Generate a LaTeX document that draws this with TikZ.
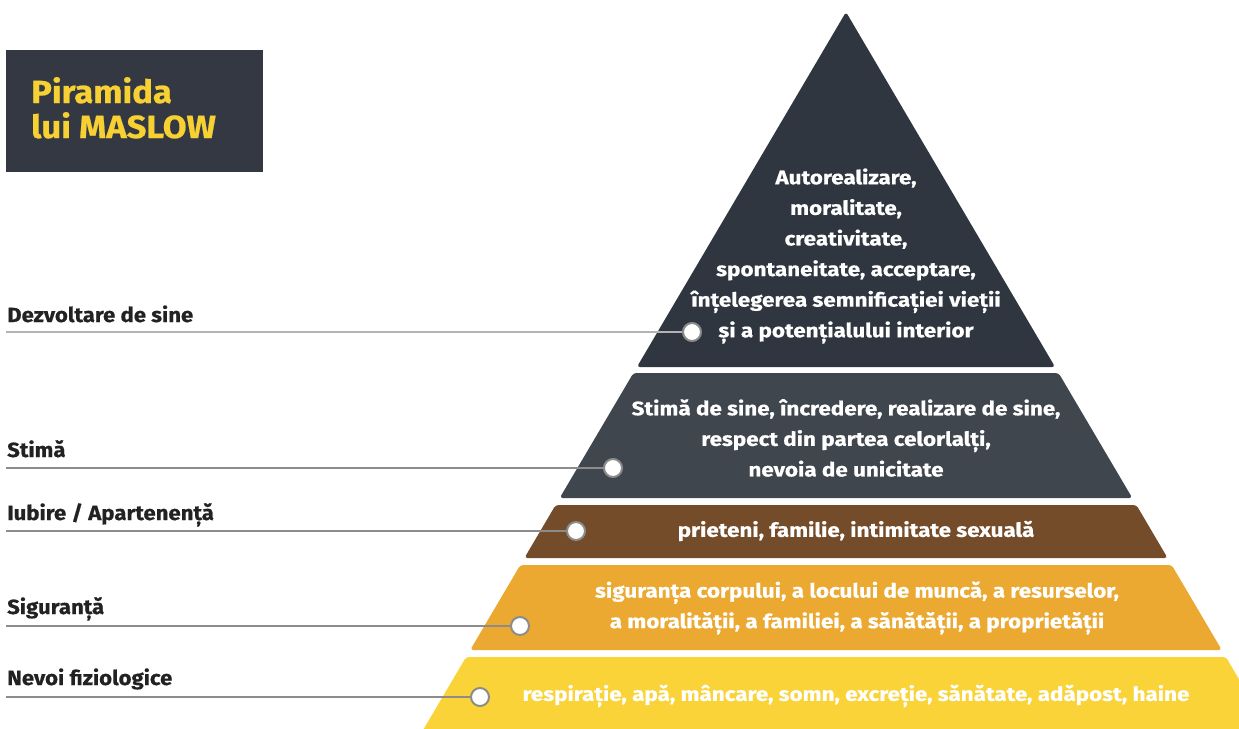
\documentclass[tikz,border=0pt]{standalone}
\usepackage{fontspec}
\newfontfamily\fbw{Fira Sans}[FakeStretch=1.15,FakeBold=0.6]
\newfontfamily\fbl{Fira Sans}[FakeStretch=1.08,FakeBold=0.6]
\definecolor{cTop}{HTML}{2F3640}
\definecolor{cEst}{HTML}{40464E}
\definecolor{cBrown}{HTML}{754C29}
\definecolor{cOrange}{HTML}{EBA932}
\definecolor{cYellow}{HTML}{F9D338}
\definecolor{cTitleBg}{HTML}{333843}
\definecolor{cTitleTx}{HTML}{F7D133}
\definecolor{cLabel}{HTML}{222222}
\definecolor{cLine}{HTML}{8C8C8C}
\definecolor{cLineLight}{HTML}{B4B4B4}
\tikzset{
  band/.style={rounded corners=3pt},
  bandtext/.style={align=center, text=white, inner sep=0pt,
    font=\fbw\bfseries\fontsize{19.5}{30.6}\selectfont},
  lvl/.style={anchor=base west, inner sep=0pt, text=cLabel,
    font=\fbl\bfseries\fontsize{20.5}{24}\selectfont},
  dot/.style={circle, minimum size=18pt, inner sep=0pt, fill=white, draw=cLine, line width=2pt},
  conn/.style={draw=cLine, line width=1.2pt},
  connlight/.style={draw=cLineLight, line width=1.8pt},
  ttl/.style={anchor=base west, inner sep=0pt, text=cTitleTx,
    font=\fbl\bfseries\fontsize{32}{35}\selectfont}
}
\begin{document}
\begin{tikzpicture}[x=1pt,y=-1pt]
\useasboundingbox (0,0) rectangle (1239,728);
\clip (0,0) rectangle (1239,728);
% pyramid bands
\fill[band,cTop] (846,12) -- (1055.1,367) -- (636.9,367) -- cycle;
\fill[band,cEst] (633.4,373) -- (1058.6,373) -- (1132.3,498) -- (559.7,498) -- cycle;
\fill[band,cBrown] (555.6,505) -- (1136.4,505) -- (1167.6,558) -- (524.4,558) -- cycle;
\fill[band,cOrange] (520.3,565) -- (1171.7,565) -- (1221.8,650) -- (470.2,650) -- cycle;
\fill[band,cYellow] (466.1,657) -- (1225.9,657) -- (1274.8,740) -- (417.2,740) -- cycle;
% band texts
\node[bandtext] (t1) at (846,256) {Autorealizare,\\moralitate,\\creativitate,\\spontaneitate, acceptare,\\înțelegerea semnificației vieții\\și a potențialului interior};
\node[bandtext] (t2) at (846,438) {Stimă de sine, încredere, realizare de sine,\\respect din partea celorlalți,\\nevoia de unicitate};
\node[bandtext] (t3) at (856,531) {prieteni, familie, intimitate sexuală};
\node[bandtext] (t4) at (857,608) {siguranța corpului, a locului de muncă, a resurselor,\\a moralității, a familiei, a sănătății, a proprietății};
\node[bandtext] (t5) at (856,696) {respirație, apă, mâncare, somn, excreție, sănătate, adăpost, haine};
% title box
\fill[cTitleBg] (6,50) rectangle (263,172);
\node[ttl] (title1) at (31,103) {Piramida};
\node[ttl] (title2) at (31,138) {lui MASLOW};
% level labels
\node[lvl] (L1) at (7,322) {Dezvoltare de sine};
\node[lvl] (L2) at (7,457) {Stimă};
\node[lvl] (L3) at (7,520) {Iubire / Apartenență};
\node[lvl] (L4) at (7,614) {Siguranță};
\node[lvl] (L5) at (7,685) {Nevoi fiziologice};
% connector start points
\coordinate (s1) at (6,332);
\coordinate (s2) at (6,468);
\coordinate (s3) at (6,531);
\coordinate (s4) at (6,626);
\coordinate (s5) at (6,697);
% dots
\node[dot] (d1) at (692,332) {};
\node[dot] (d2) at (613,468) {};
\node[dot] (d3) at (576,531) {};
\node[dot] (d4) at (520,626) {};
\node[dot] (d5) at (480,697) {};
\draw[connlight] (s1) -- (d1);
\draw[conn] (s2) -- (d2);
\draw[conn] (s3) -- (d3);
\draw[conn] (s4) -- (d4);
\draw[conn] (s5) -- (d5);
\end{tikzpicture}
\end{document}
